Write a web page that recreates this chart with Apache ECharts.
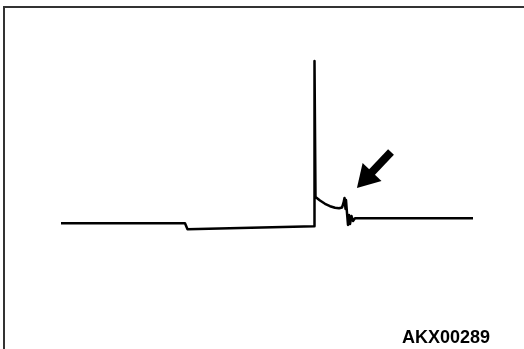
<!DOCTYPE html>
<html>
<head>
<meta charset="utf-8">
<script src="https://cdn.jsdelivr.net/npm/echarts@6/dist/echarts.min.js"></script>
<style>
  html, body { margin: 0; padding: 0; background: #fff; }
  #chart { width: 524px; height: 349px; }
</style>
</head>
<body>
<div id="chart"></div>
<script>
// waveform trace (time units, signal units)
const traceTime = [61, 185, 187.5, 314.5, 314.5, 315.5, 320, 325, 330, 335, 339, 342, 343.5, 344.5, 345.5, 346, 347, 348, 349, 350, 351.5, 353, 355, 473];
const traceLevel = [125.7, 125.7, 119.7, 122.7, 288, 152, 148.5, 145.2, 142.8, 141.2, 140.7, 141.5, 146, 151, 140, 149, 136, 124, 134, 125, 133, 128, 130.7, 130.7];
// arrow pointing at the ringing
const arrowFrom = [391, 197];
const arrowTo = [364.5, 169];
const figureCode = 'AKX00289';

const points = traceTime.map((t, i) => [t, traceLevel[i]]);

const chart = echarts.init(document.getElementById('chart'));
chart.setOption({
  animation: false,
  backgroundColor: '#fff',
  grid: { left: 0, right: 0, top: 0, bottom: 0 },
  xAxis: { type: 'value', min: 0, max: 524, show: false },
  yAxis: { type: 'value', min: 0, max: 349, show: false },
  title: {
    text: figureCode,
    left: 402,
    top: 329,
    padding: 0,
    textStyle: {
      fontFamily: 'Liberation Sans, Arial, sans-serif',
      fontWeight: 'bold',
      fontSize: 18,
      color: '#000'
    }
  },
  graphic: [
    {
      type: 'rect',
      shape: { x: 4, y: 7, width: 700, height: 500 },
      style: { fill: 'none', stroke: '#333', lineWidth: 2 },
      silent: true
    }
  ],
  series: [
    {
      type: 'line',
      data: points,
      showSymbol: false,
      lineStyle: { color: '#000', width: 2.5, join: 'round' },
      markLine: {
        silent: true,
        symbol: ['none', 'triangle'],
        symbolSize: [26, 22],
        label: { show: false },
        lineStyle: { color: '#000', width: 8, type: 'solid', cap: 'butt' },
        itemStyle: { color: '#000' },
        data: [[{ coord: arrowFrom }, { coord: arrowTo }]]
      }
    }
  ]
});
</script>
</body>
</html>
